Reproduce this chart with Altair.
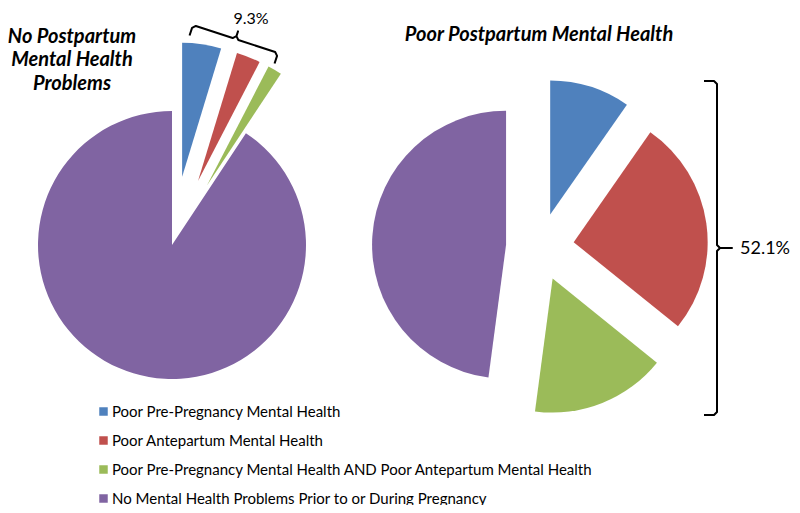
import altair as alt
import pandas as pd
import math

# ---------------- data ----------------
categories = [
    "Poor Pre-Pregnancy Mental Health",
    "Poor Antepartum Mental Health",
    "Poor Pre-Pregnancy Mental Health AND Poor Antepartum Mental Health",
    "No Mental Health Problems Prior to or During Pregnancy",
]
colors = ["#4F81BD", "#C0504D", "#9BBB59", "#8064A2"]
left_values = [4.7, 2.9, 1.7, 90.7]     # % of women, no postpartum problems
right_values = [9.7, 26.1, 16.3, 47.9]  # % of women, poor postpartum health
left_title = "No Postpartum\nMental Health\nProblems"
right_title = "Poor Postpartum Mental Health"
left_total_label = "9.3%"
right_total_label = "52.1%"

# ---------------- layout (chart pixel coordinates) ----------------
W, H = 784, 497
R = 134
FONT = "Lato"
layout = {
    "left": dict(cx=164, cy=237, explode=[69, 69, 69, 0]),
    "right": dict(cx=532, cy=239, explode=[34, 34, 34, 34]),
}

rows = []
for pie, vals in [("left", left_values), ("right", right_values)]:
    g = layout[pie]
    for i, (c, v) in enumerate(zip(categories, vals)):
        rows.append(dict(pie=pie, order=i, category=c, value=v,
                         cx=g["cx"], cy=g["cy"], explode=g["explode"][i]))
df = pd.DataFrame(rows)

pies = (
    alt.Chart(df)
    .transform_joinaggregate(total="sum(value)", groupby=["pie"])
    .transform_window(cum="sum(value)", groupby=["pie"],
                      sort=[alt.SortField("order")], frame=[None, 0])
    .transform_calculate(t1="2*PI*datum.cum/datum.total")
    .transform_calculate(t0="2*PI*(datum.cum-datum.value)/datum.total")
    .transform_calculate(mid="(datum.t0+datum.t1)/2")
    .transform_calculate(px="datum.cx + datum.explode*sin(datum.mid)")
    .transform_calculate(py="datum.cy - datum.explode*cos(datum.mid)")
    .mark_arc(radius=R)
    .encode(
        theta=alt.Theta("t0:Q", scale=None),
        theta2=alt.Theta2("t1:Q"),
        x=alt.X("px:Q", scale=None, axis=None),
        y=alt.Y("py:Q", scale=None, axis=None),
        color=alt.Color(
            "category:N",
            scale=alt.Scale(domain=categories, range=colors),
            legend=alt.Legend(
                title=None, orient="none", legendX=88, legendY=396,
                symbolType="square", symbolSize=72, symbolStrokeWidth=0,
                labelFontSize=15, labelFont=FONT, labelColor="#000000",
                labelLimit=700, rowPadding=13, labelOffset=1,
            ),
        ),
    )
)


def brace(name, ax, ay, bx, by, nx, ny, hook, tick):
    """Curly-brace polyline from A to B; n points toward the label."""
    dx, dy = bx - ax, by - ay
    L = math.hypot(dx, dy)
    ux, uy = dx / L, dy / L
    c = 3.0
    pts = [
        (ax - nx * hook, ay - ny * hook),
        (ax - nx * c, ay - ny * c),
        (ax + ux * c, ay + uy * c),
        (ax + ux * (L / 2 - c), ay + uy * (L / 2 - c)),
        (ax + ux * L / 2 + nx * c, ay + uy * L / 2 + ny * c),
        (ax + ux * L / 2 + nx * tick, ay + uy * L / 2 + ny * tick),
        (ax + ux * L / 2 + nx * c, ay + uy * L / 2 + ny * c),
        (ax + ux * (L / 2 + c), ay + uy * (L / 2 + c)),
        (bx - ux * c, by - uy * c),
        (bx - nx * c, by - ny * c),
        (bx - nx * hook, by - ny * hook),
    ]
    return [dict(brace=name, i=k, x=p[0], y=p[1]) for k, p in enumerate(pts)]


lx, ly = 185, 17
rx_, ry_ = 270, 45
d = math.hypot(rx_ - lx, ry_ - ly)
nlx, nly = (ry_ - ly) / d, -(rx_ - lx) / d
brace_rows = brace("left", lx, ly, rx_, ry_, nlx, nly, 11, 8) + \
    brace("right", 709, 73, 709, 407, 1, 0, 13, 15)
braces = (
    alt.Chart(pd.DataFrame(brace_rows))
    .mark_line(color="#000000", strokeWidth=2, strokeJoin="round")
    .encode(
        x=alt.X("x:Q", scale=None, axis=None),
        y=alt.Y("y:Q", scale=None, axis=None),
        detail="brace:N",
        order="i:Q",
    )
)

title_left = alt.Chart(pd.DataFrame({"t": [left_title]})).mark_text(
    font=FONT, fontSize=20, fontWeight="bold", fontStyle="italic",
    align="center", baseline="middle", lineBreak="\n", lineHeight=23.5,
    color="#000000",
).encode(text="t:N", x=alt.value(64), y=alt.value(28.5))
title_right = alt.Chart(pd.DataFrame({"t": [right_title]})).mark_text(
    font=FONT, fontSize=20, fontWeight="bold", fontStyle="italic",
    align="center", baseline="middle", color="#000000",
).encode(text="t:N", x=alt.value(531), y=alt.value(26.5))
lab_left = alt.Chart(pd.DataFrame({"t": [left_total_label]})).mark_text(
    font=FONT, fontSize=16, align="center", baseline="top",
    color="#000000",
).encode(text="t:N", x=alt.value(243), y=alt.value(3))
lab_right = alt.Chart(pd.DataFrame({"t": [right_total_label]})).mark_text(
    font=FONT, fontSize=18, align="left", baseline="middle", color="#000000",
).encode(text="t:N", x=alt.value(732), y=alt.value(241))

chart = (
    alt.layer(pies, braces, title_left, title_right, lab_left, lab_right)
    .properties(width=W, height=H, padding=0,
                autosize=alt.AutoSizeParams(type="none"))
    .configure_view(stroke="transparent")
)

chart.save("out.html", embed_options={"renderer": "svg", "actions": False})
